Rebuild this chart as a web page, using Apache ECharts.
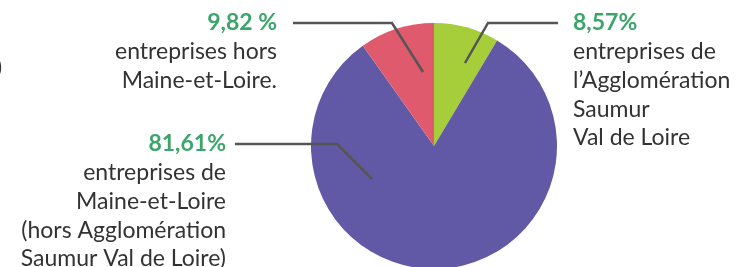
<!DOCTYPE html>
<html>
<head>
<meta charset="utf-8">
<script src="https://cdn.jsdelivr.net/npm/echarts@6/dist/echarts.min.js"></script>
<style>
  html, body { margin: 0; padding: 0; background: #fff; }
  #main { width: 746px; height: 267px; }
</style>
</head>
<body>
<div id="main"></div>
<script>
// parts of the pie, clockwise from the top
const names = ['agglo', 'maine', 'hors'];
const values = [8.57, 81.61, 9.82];
const pctLabels = ['8,57%', '81,61%', '9,82 %'];
const descLabels = [
    ['entreprises de', 'l\u2019Agglomération', 'Saumur', 'Val de Loire'],
    ['entreprises de', 'Maine-et-Loire', '(hors Agglomération', 'Saumur Val de Loire)'],
    ['entreprises hors', 'Maine-et-Loire.']
];
const colors = ['#a6cd3a', '#6259a6', '#e05a6e'];

const chart = echarts.init(document.getElementById('main'));

const CX = 434, CY = 146, R = 123;
const LH = 28.7;

// label line: inner point, elbow, end (offsets from pie centre), label anchor
let lines = [
    {pts: [[31, -83], [54, -123], [124, -123]], x: 573, align: 'left'},
    {pts: [[-62, 33], [-97, -2], [-199, -2]], x: 226, align: 'right'},
    {pts: [[-11, -74], [-42, -123], [-141, -123]], x: 277, align: 'right'}
];

function linePoints(i) {
    return lines[i].pts.map(function (p) {
        return [CX + p[0], CY + p[1]];
    });
}

let data = values.map(function (v, i) {
    return {
        name: names[i],
        value: v,
        itemStyle: {color: colors[i]},
        label: {
            formatter: '{p|' + pctLabels[i] + '}\n' + descLabels[i].map(function (t) {
                return '{t|' + t + '}';
            }).join('\n'),
            align: lines[i].align
        }
    };
});

// leader lines drawn on top of the slices
let guides = values.map(function (v, i) {
    return {
        type: 'polyline',
        z: 100,
        silent: true,
        shape: {points: linePoints(i)},
        style: {stroke: '#555555', lineWidth: 2.5, fill: null}
    };
});

option = {
    animation: false,
    graphic: guides.concat([{
        type: 'text',
        x: -4,
        y: 56,
        style: {text: ')', font: '23px Lato', fill: '#333333'}
    }]),
    series: [{
        type: 'pie',
        center: [CX, CY],
        radius: R,
        startAngle: 90,
        clockwise: true,
        silent: true,
        itemStyle: {borderWidth: 0},
        label: {
            show: true,
            position: 'outside',
            rich: {
                p: {
                    fontFamily: 'Lato',
                    fontSize: 23,
                    fontWeight: 'bold',
                    color: '#3ca56b',
                    lineHeight: LH
                },
                t: {
                    fontFamily: 'Lato',
                    fontSize: 23,
                    color: '#333333',
                    lineHeight: LH
                }
            }
        },
        labelLine: {show: false},
        labelLayout: function (params) {
            let l = lines[params.dataIndex];
            return {
                x: l.x,
                y: linePoints(params.dataIndex)[2][1] - LH / 2,
                align: l.align,
                verticalAlign: 'top'
            };
        },
        data: data
    }]
};
chart.setOption(option);
</script>
</body>
</html>
